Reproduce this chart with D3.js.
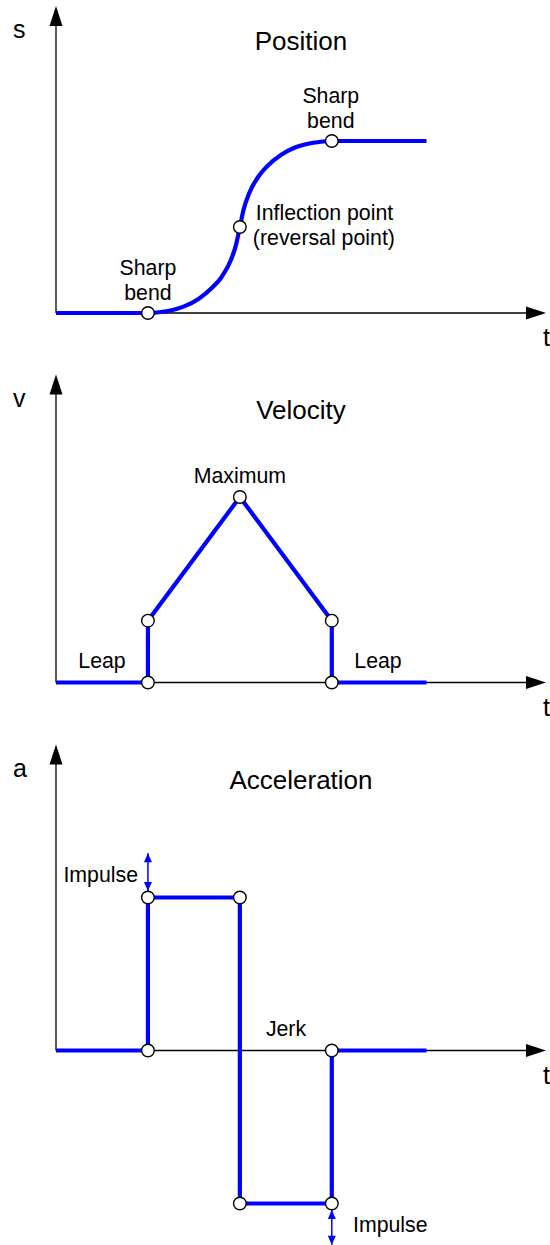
<!DOCTYPE html>
<html>
<head>
<meta charset="utf-8">
<script src="https://cdn.jsdelivr.net/npm/d3@7"></script>
<style>
  html, body { margin: 0; padding: 0; background: #fff; }
  svg { display: block; }
  text { font-family: "Liberation Sans", Arial, sans-serif; fill: #000; }
</style>
</head>
<body>
<svg id="chart" width="550" height="1245"></svg>
<script>
// ---------------- data ----------------
const titles = ["Position", "Velocity", "Acceleration"];
const yLabels = ["s", "v", "a"];
const xLabel = "t";

// Position curve (t, s)
const positionT = [0, 1.00, 1.20, 1.40, 1.55, 1.70, 1.80, 1.90, 1.96, 2.00, 2.04, 2.10, 2.20, 2.30, 2.45, 2.60, 2.80, 3.00, 4.03];
const positionS = [0, 0.000, 0.010, 0.040, 0.082, 0.148, 0.208, 0.305, 0.400, 0.500, 0.600, 0.695, 0.792, 0.855, 0.920, 0.962, 0.990, 1.000, 1.000];
const positionMarkT = [1, 2, 3];
const positionMarkS = [0, 0.5, 1];

// Velocity (t, v)
const velocityT = [0, 1, 1, 2, 3, 3, 4.03];
const velocityV = [0, 0, 1, 3, 1, 0, 0];
const velocityMarkT = [1, 1, 2, 3, 3];
const velocityMarkV = [0, 1, 3, 1, 0];

// Acceleration (t, a)
const accelT = [0, 1, 1, 2, 2, 3, 3, 4.03];
const accelA = [0, 0, 1, 1, -1, -1, 0, 0];
const accelMarkT = [1, 1, 2, 2, 3, 3];
const accelMarkA = [0, 1, 1, -1, -1, 0];

// Impulse arrows (t, from, to)
const impulseT = [1, 3];
const impulseFrom = [1, -1];
const impulseTo = [1.29, -1.27];

// ---------------- layout ----------------
const svg = d3.select("#chart");
const BLUE = "#0000ff";
const x = d3.scaleLinear().domain([0, 5.33]).range([56, 546]);
const tEnd = 5.33;

const yPos = d3.scaleLinear().domain([0, 1]).range([313, 141]);
const yVel = d3.scaleLinear().domain([0, 3]).range([682.5, 497]);
const yAcc = d3.scaleLinear().domain([-1, 1]).range([1203.5, 897.5]);
const yTops = [1.785, 4.98, 2.0];
const yScales = [yPos, yVel, yAcc];

function drawAxes(i) {
  const y = yScales[i];
  const g = svg.append("g");
  const x0 = x(0), y0 = y(0);
  const ah = 20, aw = 6.5;
  // x axis
  const xt = x(tEnd);
  g.append("line").attr("x1", x0).attr("x2", xt - ah + 1).attr("y1", y0).attr("y2", y0)
    .attr("stroke", "#000").attr("stroke-width", 1.3);
  g.append("path").attr("d", `M${xt},${y0} L${xt - ah},${y0 - aw} L${xt - ah},${y0 + aw} Z`).attr("fill", "#000");
  // y axis
  const yt = y(yTops[i]);
  g.append("line").attr("x1", x0).attr("x2", x0).attr("y1", y0).attr("y2", yt + ah - 1)
    .attr("stroke", "#000").attr("stroke-width", 1.3);
  g.append("path").attr("d", `M${x0},${yt} L${x0 - aw},${yt + ah} L${x0 + aw},${yt + ah} Z`).attr("fill", "#000");
  // labels
  g.append("text").attr("x", 13).attr("y", yt + 32).attr("font-size", 25).text(yLabels[i]);
  g.append("text").attr("x", 543).attr("y", y0 + 33).attr("font-size", 25).text(xLabel);
  g.append("text").attr("x", 301).attr("y", yt + 44).attr("font-size", 26).attr("text-anchor", "middle").text(titles[i]);
}

function drawSeries(ts, vs, y, curve) {
  const pts = ts.map((t, k) => [t, vs[k]]);
  svg.append("path")
    .attr("d", d3.line().x(d => x(d[0])).y(d => y(d[1])).curve(curve)(pts))
    .attr("fill", "none").attr("stroke", BLUE).attr("stroke-width", 4.2)
    .attr("stroke-linejoin", "miter");
}

function drawMarkers(ts, vs, y) {
  svg.append("g").selectAll("circle").data(ts.map((t, k) => [t, vs[k]])).join("circle")
    .attr("cx", d => x(d[0])).attr("cy", d => y(d[1])).attr("r", 6.3)
    .attr("fill", "#fff").attr("stroke", "#000").attr("stroke-width", 1.4);
}

function label(txt, px, py, anchor, size) {
  svg.append("text").attr("x", px).attr("y", py).attr("font-size", size || 21.3)
    .attr("text-anchor", anchor || "start").text(txt);
}

// ---------- Position ----------
drawAxes(0);
drawSeries(positionT, positionS, yPos, d3.curveMonotoneX);
drawMarkers(positionMarkT, positionMarkS, yPos);
label("Sharp", x(3) - 1, yPos(1) - 38, "middle");
label("bend", x(3) - 1, yPos(1) - 13, "middle");
label("Sharp", x(1), yPos(0) - 38, "middle");
label("bend", x(1), yPos(0) - 13, "middle");
label("Inflection point", x(2) + 16, yPos(0.5) - 7);
label("(reversal point)", x(2) + 13, yPos(0.5) + 18);

// ---------- Velocity ----------
drawAxes(1);
drawSeries(velocityT, velocityV, yVel, d3.curveLinear);
drawMarkers(velocityMarkT, velocityMarkV, yVel);
label("Maximum", x(2), yVel(3) - 14, "middle");
label("Leap", 102, yVel(0) - 15, "middle");
label("Leap", 378, yVel(0) - 15, "middle");

// ---------- Acceleration ----------
drawAxes(2);
drawSeries(accelT, accelA, yAcc, d3.curveLinear);
// impulse arrows
impulseT.forEach((t, k) => {
  const px = x(t);
  const dir = Math.sign(impulseTo[k] - impulseFrom[k]);
  const yA = yAcc(impulseFrom[k]) - dir * 6.5; // start at marker edge
  const yB = yAcc(impulseTo[k]);
  const L = 9, W = 4;
  svg.append("line").attr("x1", px).attr("x2", px).attr("y1", yA).attr("y2", yB)
    .attr("stroke", BLUE).attr("stroke-width", 1.5);
  svg.append("path").attr("d", `M${px},${yB} L${px - W},${yB + dir * L} L${px + W},${yB + dir * L} Z`).attr("fill", BLUE);
  svg.append("path").attr("d", `M${px},${yA} L${px - W},${yA - dir * L} L${px + W},${yA - dir * L} Z`).attr("fill", BLUE);
});
drawMarkers(accelMarkT, accelMarkA, yAcc);
label("Impulse", 138, 882, "end");
label("Jerk", 286, yAcc(0) - 15, "middle");
label("Impulse", 353, 1232, "start");
</script>
</body>
</html>
